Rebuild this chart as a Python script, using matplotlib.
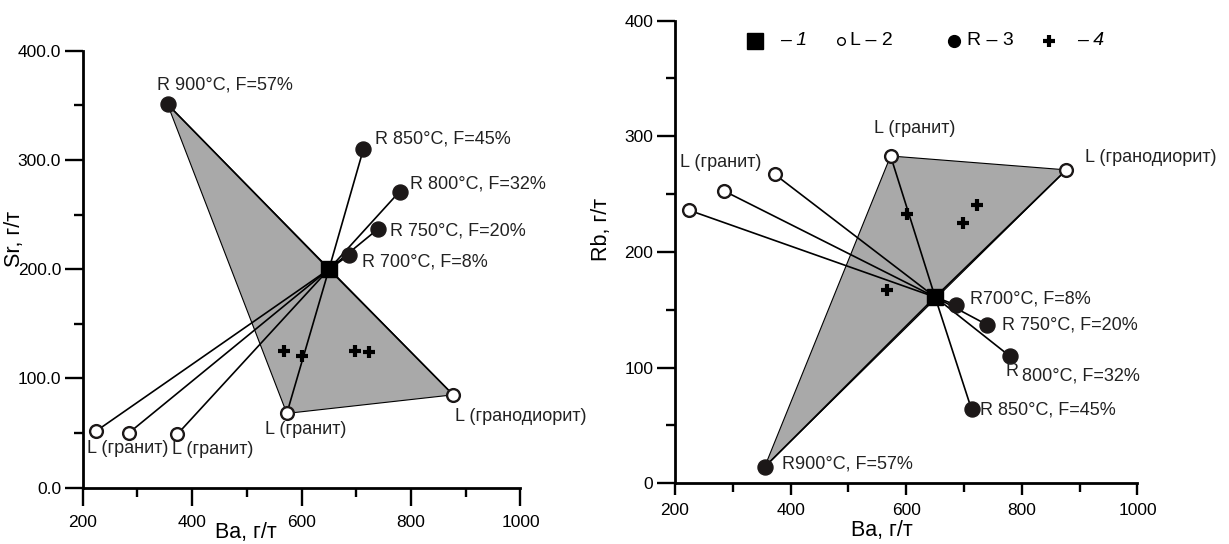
import matplotlib
matplotlib.use("Agg")
import matplotlib.pyplot as plt
import numpy as np

plt.rcParams['font.family'] = ['Liberation Sans', 'DejaVu Sans']

# Ba is shared by both diagrams
baCentre = 650
srCentre = 200
rbCentre = 161

# residues R (700, 750, 800, 850, 900 °C)
baR = [687, 740, 779, 713, 355]
srR = [213, 237, 271, 310, 351]
rbR = [154, 137, 110, 64, 14]

# melts L
baL = [225, 284, 373, 573, 877]
srL = [52, 50, 49, 68, 85]
rbL = [236, 253, 267, 283, 271]

# crosses (4)
baX = [567, 601, 698, 723]
srX = [125, 121, 125, 124]
rbX = [167, 233, 225, 241]

# labels: (text, x, y)
srLabels = [("R 900°C, F=57%", 335, 369), ("R 850°C, F=45%", 734, 319),
            ("R 800°C, F=32%", 798, 278), ("R 750°C, F=20%", 761, 235),
            ("R 700°C, F=8%", 711, 207), ("L (гранодиорит)", 880, 65),
            ("L (гранит)", 533, 53), ("L (гранит)", 207, 36), ("L (гранит)", 363, 35)]
rbLabels = [("L (гранит)", 545, 307), ("L (гранит)", 209, 277),
            ("L (гранодиорит)", 909, 282), ("R700°C, F=8%", 711, 159),
            ("R 750°C, F=20%", 765, 137), ("R", 771, 97), ("800°C, F=32%", 801, 93),
            ("R 850°C, F=45%", 728, 63), ("R900°C, F=57%", 386, 17)]

FILL = "#a9a9a9"
DARK = "#1c1818"


def drawPanel(ax, yC, yR, yL, yX, labels, polyIdx):
    """Draws one Ba-X diagram."""
    # grey triangle: R900, L(granite), L(granodiorite)
    poly = [(baR[4], yR[4]), (baL[polyIdx], yL[polyIdx]), (baL[4], yL[4])]
    ax.add_patch(plt.Polygon(poly, closed=True, facecolor=FILL, edgecolor="black", lw=0.8, zorder=1))

    for x, y in zip(baR + baL, yR + yL): #tie lines from the source
        ax.plot([baCentre, x], [yC, y], c="black", lw=1.2, zorder=2)

    ax.plot(baR, yR, "o", ms=10.8, c=DARK, zorder=3)
    ax.plot(baL, yL, "o", ms=9.2, mfc="white", mec=DARK, mew=1.7, zorder=3)
    ax.plot(baX, yX, "+", ms=9, mew=3, c="black", zorder=3)
    ax.plot([baCentre], [yC], "s", ms=11.5, c="black", zorder=4)

    for t, x, y in labels:
        ax.text(x, y, t, fontsize=13, ha="left", va="center", color="#222222")

    ax.set_xlim(200, 1000)
    ax.set_ylim(0, 400)
    ax.set_xticks(np.arange(200, 1001, 200))
    ax.set_xticks(np.arange(300, 1000, 200), minor=True)
    ax.set_yticks(np.arange(0, 401, 100))
    ax.set_yticks(np.arange(50, 400, 100), minor=True)
    for s in ["top", "right"]:
        ax.spines[s].set_visible(False)
    for s in ["left", "bottom"]:
        ax.spines[s].set_linewidth(2)
    ax.tick_params(labelsize=12.5)


fig = plt.figure(figsize=(12.29, 5.44), dpi=100)
ax0 = fig.add_axes([0.0673, 0.1035, 0.3562, 0.8033])
ax1 = fig.add_axes([0.5492, 0.1116, 0.3763, 0.8504])

drawPanel(ax0, srCentre, srR, srL, srX, srLabels, 3)
drawPanel(ax1, rbCentre, rbR, rbL, rbX, rbLabels, 3)

ax0.set_yticklabels([f"{v:.1f}" for v in ax0.get_yticks()])
ax0.tick_params(axis="x", which="major", length=13, width=1.7, pad=7)
ax0.tick_params(axis="x", which="minor", length=6.5, width=1.7)
ax0.tick_params(axis="y", which="major", length=13, width=1.7, pad=2.5)
ax0.tick_params(axis="y", which="minor", length=6.5, width=1.7)
ax1.tick_params(axis="x", which="major", length=8.5, width=1.7, pad=5.5)
ax1.tick_params(axis="x", which="minor", length=6.5, width=1.7)
ax1.tick_params(axis="y", which="major", length=13, width=1.7, pad=2.5)
ax1.tick_params(axis="y", which="minor", length=6.5, width=1.7)

# axis titles
fig.text(0.0115, 0.56, "Sr, г/т", rotation=90, ha="center", va="center", fontsize=15.5)
fig.text(0.200, 0.021, "Ba, г/т", ha="center", va="center", fontsize=15.5)
fig.text(0.4898, 0.578, "Rb, г/т", rotation=90, ha="center", va="center", fontsize=15.5)
fig.text(0.7177, 0.0257, "Ba, г/т", ha="center", va="center", fontsize=15.5)

# legend row drawn in axes fraction
ly = 0.957
tr = ax1.transAxes
ax1.plot([0.174], [ly], "s", ms=11, c="black", transform=tr, clip_on=False)
ax1.text(0.227, ly, "– 1", style="italic", fontsize=14, va="center", transform=tr)
ax1.plot([0.360], [ly], "o", ms=5.5, mfc="white", mec="black", mew=1, transform=tr, clip_on=False)
ax1.text(0.378, ly, "L – 2", fontsize=14, va="center", transform=tr)
ax1.plot([0.603], [ly], "o", ms=8.5, c="black", transform=tr, clip_on=False)
ax1.text(0.631, ly, "R – 3", fontsize=14, va="center", transform=tr)
ax1.plot([0.808], [ly], "+", ms=9, mew=3, c="black", transform=tr, clip_on=False)
ax1.text(0.869, ly, "– 4", style="italic", fontsize=14, va="center", transform=tr)

plt.savefig("out.png", dpi=100)
